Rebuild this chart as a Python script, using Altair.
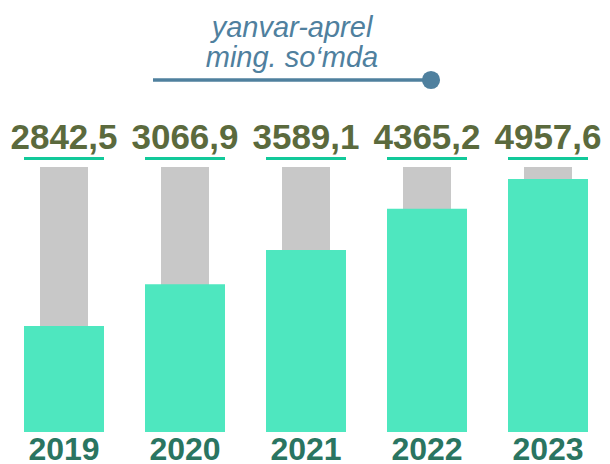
import altair as alt
import pandas as pd

years = ["2019", "2020", "2021", "2022", "2023"]
value_labels = ["2842,5", "3066,9", "3589,1", "4365,2", "4957,6"]
# visual fill of each bar as a share (%) of the grey background column
fill_share = [40.0, 55.8, 68.7, 84.2, 95.5]
title_lines = ["yanvar-aprel", "ming. so‘mda"]

df = pd.DataFrame({"year": years, "label": value_labels, "share": fill_share, "full": [100] * 5})

GREEN = "#4EE7BF"
UNDER = "#12C99A"
GREY = "#C8C8C8"
OLIVE = "#5B6A3D"
YEARC = "#2A7561"
BLUE = "#4F809E"
FONT = "Liberation Sans"

x = alt.X("year:N", scale=alt.Scale(range=[-4.5, 600.5], paddingInner=0, paddingOuter=0), axis=None)
yscale = alt.Scale(domain=[0, 100], range=[424, 159])

base = alt.Chart(df)

grey = base.mark_bar(width=48, color=GREY).encode(
    x=x, y=alt.Y("full:Q", scale=yscale, axis=None), y2=alt.datum(0)
)
green = base.mark_bar(width=80, color=GREEN).encode(
    x=x, y=alt.Y("share:Q", scale=yscale, axis=None), y2=alt.datum(0)
)
under = base.mark_bar(width=80, color=UNDER).encode(
    x=x, y=alt.value(149), y2=alt.value(152)
)
vals = base.mark_text(font=FONT, fontSize=35, fontWeight="bold", color=OLIVE, baseline="alphabetic").encode(
    x=x, y=alt.value(141), text="label:N"
)
yrs = base.mark_text(font=FONT, fontSize=32, fontWeight="bold", color=YEARC, baseline="alphabetic").encode(
    x=x, y=alt.value(452), text="year:N"
)

tdf = pd.DataFrame({"t": title_lines, "py": [29, 59]})
title = alt.Chart(tdf).mark_text(font=FONT, fontSize=29, fontStyle="italic", color=BLUE, baseline="alphabetic").encode(
    x=alt.value(284), y=alt.Y("py:Q", scale=None), text="t:N"
)
line = alt.Chart(tdf.head(1)).mark_rule(color=BLUE, strokeWidth=3.5).encode(
    x=alt.value(145), x2=alt.value(423), y=alt.value(72)
)
dot = alt.Chart(tdf.head(1)).mark_point(filled=True, color=BLUE, opacity=1, size=330, shape="circle").encode(
    x=alt.value(423), y=alt.value(72)
)

chart = alt.layer(grey, green, under, vals, yrs, title, line, dot).properties(
    width=594, height=456, padding=0, autosize=alt.AutoSizeParams(type="none")
).configure_view(stroke=None)

chart.save("out.html", embed_options={"renderer": "svg", "actions": False})
